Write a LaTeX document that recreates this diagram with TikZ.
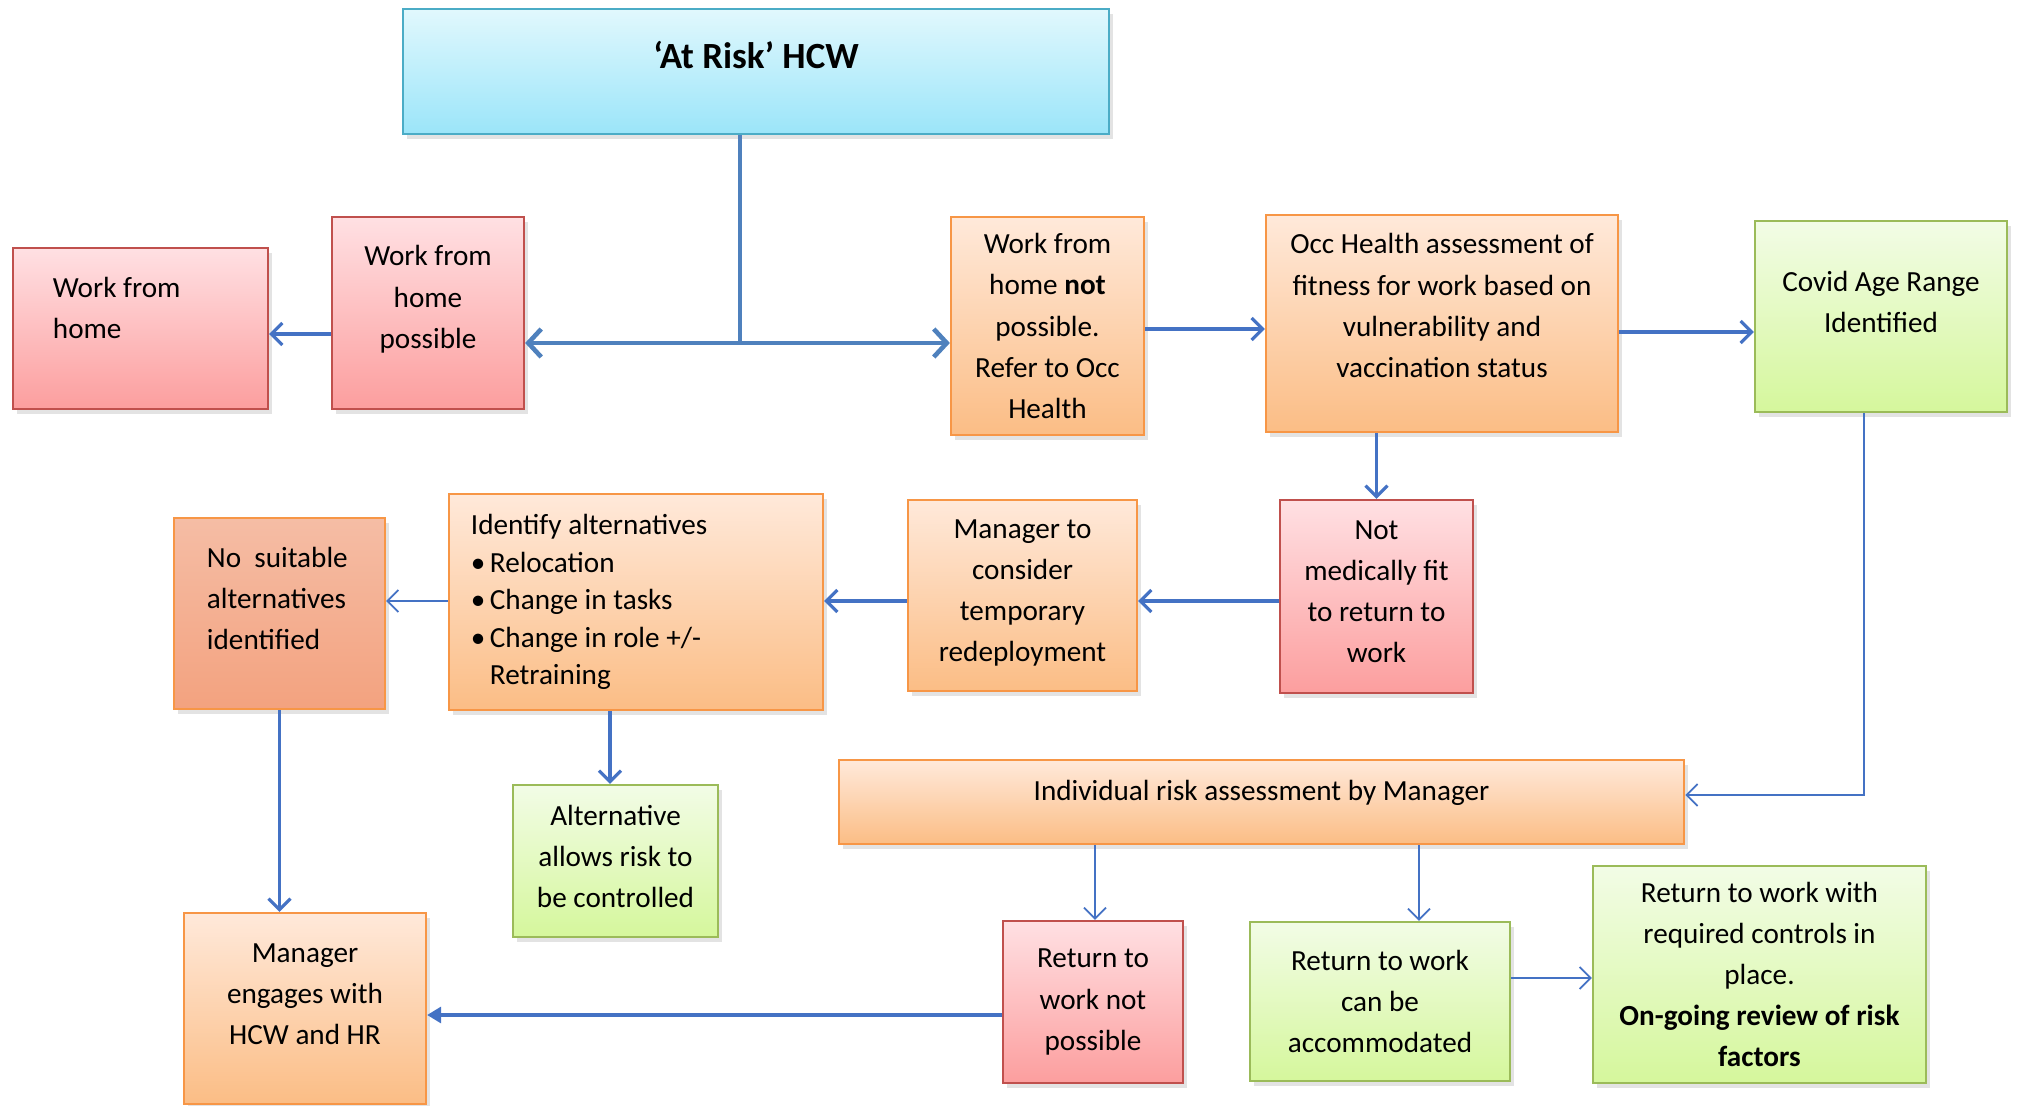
\documentclass[tikz,border=0pt]{standalone}
\usepackage{fontspec}
\setmainfont{Carlito}
\usepackage{tikz}
\usetikzlibrary{arrows.meta,shadows}

\definecolor{linkblue}{HTML}{4472C4}
\definecolor{linkbluedark}{HTML}{4F81BD}
\definecolor{redline}{HTML}{C0504D}
\definecolor{redtop}{HTML}{FFE0E3}
\definecolor{redbot}{HTML}{FC9E9E}
\definecolor{orangeline}{HTML}{F79646}
\definecolor{orangetop}{HTML}{FFE9DA}
\definecolor{orangebot}{HTML}{FBBD85}
\definecolor{greenline}{HTML}{9BBB59}
\definecolor{greentop}{HTML}{F2FCE6}
\definecolor{greenbot}{HTML}{D5F79C}
\definecolor{blueline}{HTML}{4BACC6}
\definecolor{bluetop}{HTML}{E1F8FD}
\definecolor{bluebot}{HTML}{9BE5F9}
\definecolor{salmontop}{HTML}{F5BDA5}
\definecolor{salmonbot}{HTML}{F3A27F}

\tikzset{basebox/.style={rectangle, line width=0.6pt, align=center, inner sep=0pt, font=\fontsize{8.3}{11.7}\selectfont, drop shadow={opacity=0.22, shadow xshift=0.04cm, shadow yshift=-0.05cm}},
  redbox/.style={basebox, draw=redline, top color=redtop, bottom color=redbot},
  orangebox/.style={basebox, draw=orangeline, top color=orangetop, bottom color=orangebot},
  greenbox/.style={basebox, draw=greenline, top color=greentop, bottom color=greenbot},
  bluebox/.style={basebox, draw=blueline, top color=bluetop, bottom color=bluebot},
  salmonbox/.style={basebox, draw=orangeline, top color=salmontop, bottom color=salmonbot, drop shadow={opacity=0}},
  link/.style={draw=linkblue, line width=0.9pt, -{Straight Barb[length=1.1mm, width=2.2mm]}},
  thinlink/.style={link, line width=0.5pt},
  heavylink/.style={draw=linkbluedark, line width=1.3pt},}

\begin{document}
\begin{tikzpicture}[x=0.01cm, y=-0.01cm]
\useasboundingbox (0,0) rectangle (2017,1106);

\node [bluebox, minimum width=7.06cm, minimum height=1.25cm, font=\fontsize{10.5}{13}\selectfont\bfseries] (risk) at (756,71.5) {‘At Risk’ HCW\\[-3.6pt]~};
\node [redbox, minimum width=2.55cm, minimum height=1.61cm, text width=1.75cm, align=flush left] (wfh) at (140.5,328.5) {Work from\\home\\~};
\node [redbox, minimum width=1.92cm, minimum height=1.92cm] (wfhp) at (428,313) {Work from\\home\\possible\\[-2.6pt]~};
\node [orangebox, minimum width=1.93cm, minimum height=2.18cm] (wfhn) at (1047.5,326) {Work from\\home \textbf{not}\\possible.\\Refer to Occ\\Health};
\node [orangebox, minimum width=3.52cm, minimum height=2.17cm] (occ) at (1442,323.5) {Occ Health assessment of\\fitness for work based on\\vulnerability and\\vaccination status\\[-1.5pt]~};
\node [greenbox, minimum width=2.52cm, minimum height=1.91cm] (covid) at (1881,316.5) {Covid Age Range\\Identified\\[-3.2pt]~};

\node [redbox, minimum width=1.93cm, minimum height=1.93cm] (notfit) at (1376.5,596.5) {Not\\medically fit\\to return to\\work\\[-9pt]~};
\node [orangebox, minimum width=2.29cm, minimum height=1.91cm] (mgrc) at (1022.5,595.5) {Manager to\\consider\\temporary\\redeployment\\[-9pt]~};
\node [orangebox, minimum width=3.74cm, minimum height=2.16cm, text width=3.30cm, align=flush left, font=\fontsize{8.3}{10.7}\selectfont] (ident) at (636,602) {Identify alternatives\\\makebox[0.19cm][l]{•}Relocation\\\makebox[0.19cm][l]{•}Change in tasks\\\makebox[0.19cm][l]{•}Change in role +/-\\\hspace*{0.19cm}Retraining};
\node [salmonbox, minimum width=2.11cm, minimum height=1.91cm, text width=1.45cm, align=flush left] (nosuit) at (279.5,613.5) {\mbox{No\ \ suitable}\\alternatives\\identified\\[-3.2pt]~};

\node [greenbox, minimum width=2.05cm, minimum height=1.52cm] (altern) at (615.5,861) {Alternative\\allows risk to\\be controlled\\[-9pt]~};
\node [orangebox, minimum width=8.45cm, minimum height=0.84cm] (indiv) at (1261.5,802) {Individual risk assessment by Manager\\[-4.9pt]~};
\node [orangebox, minimum width=2.42cm, minimum height=1.91cm] (mgre) at (305,1008.5) {Manager\\engages with\\HCW and HR\\[-3.7pt]~};
\node [redbox, minimum width=1.80cm, minimum height=1.62cm] (rtwn) at (1093,1002) {Return to\\work not\\possible};
\node [greenbox, minimum width=2.60cm, minimum height=1.59cm] (rtwa) at (1380,1001.5) {Return to work\\can be\\accommodated};
\node [greenbox, minimum width=3.33cm, minimum height=2.17cm] (rtwc) at (1759.5,974.5) {Return to work with\\required controls in\\place.\\\textbf{On-going review of risk}\\\textbf{factors}};

\coordinate (split) at (740,343);
\draw [heavylink] (risk.south -| split) -- (split);
\draw [heavylink, -{Straight Barb[length=1.3mm, width=2.8mm]}] (split) -- (wfhp.east |- split);
\draw [heavylink, -{Straight Barb[length=1.3mm, width=2.8mm]}] (split) -- (wfhn.west |- split);

\draw [link] (wfhp.west |- 0,334) -- (wfh.east |- 0,334);
\draw [link] (wfhn.east |- 0,329) -- (occ.west |- 0,329);
\draw [link] (occ.east |- 0,332) -- (covid.west |- 0,332);
\draw [link] (occ.south -| notfit.north) -- (notfit.north);
\draw [link] (notfit.west |- 0,601) -- (mgrc.east |- 0,601);
\draw [link] (mgrc.west |- 0,601) -- (ident.east |- 0,601);
\draw [thinlink] (ident.west |- 0,601) -- (nosuit.east |- 0,601);
\draw [link] (ident.south -| 610,0) -- (altern.north -| 610,0);
\draw [link] (nosuit.south) -- (nosuit.south |- mgre.north);
\draw [thinlink] (covid.south -| 1864,0) |- (indiv.east |- 0,795);
\draw [thinlink] (indiv.south -| 1095,0) -- (rtwn.north -| 1095,0);
\draw [thinlink] (indiv.south -| 1419,0) -- (rtwa.north -| 1419,0);
\draw [link, -{Triangle[length=1.4mm, width=1.6mm]}] (rtwn.west |- 0,1015) -- (mgre.east |- 0,1015);
\draw [thinlink] (rtwa.east |- 0,978) -- (rtwc.west |- 0,978);
\end{tikzpicture}
\end{document}
